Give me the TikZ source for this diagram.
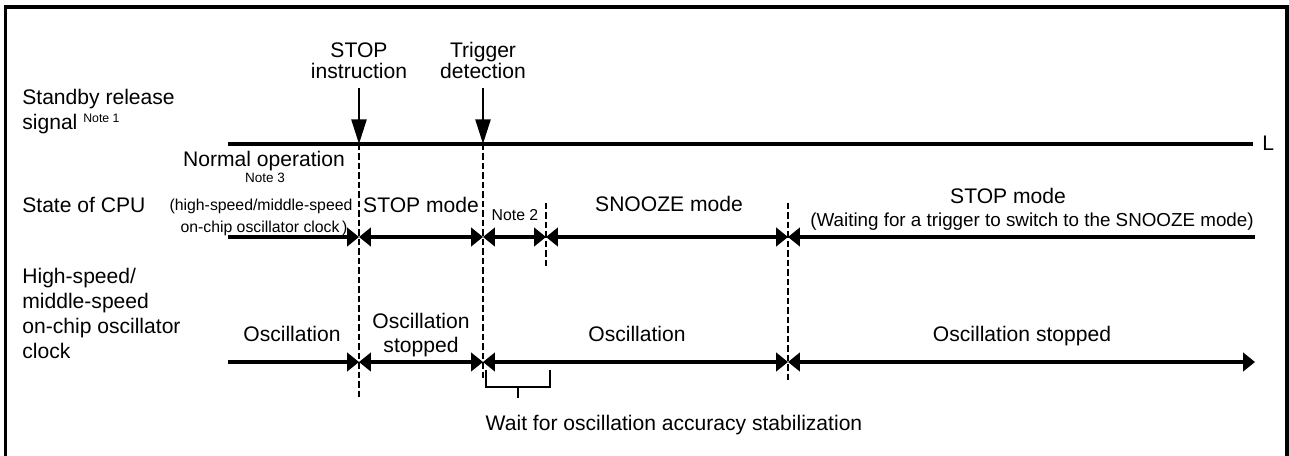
\documentclass[tikz,border=0pt]{standalone}
\usepackage{fontspec}
\setmainfont{Liberation Sans}
\usepackage{graphicx}
\usetikzlibrary{arrows.meta}

\tikzset{
  txt/.style={inner sep=0pt, anchor=base, font=\fontsize{12}{14}\selectfont},
  lefttxt/.style={txt, anchor=base west},
  smalltxt/.style={txt, font=\fontsize{9}{11}\selectfont},
  frame/.style={line width=2pt},
  signal/.style={line width=1.9pt},
  cutline/.style={line width=1.4pt, dash pattern=on 3.6pt off 1.8pt},
  event/.style={line width=1.5pt, -{Triangle[length=14pt,width=8.5pt]}},
  brace/.style={line width=1pt},
  >={Triangle[length=6.8pt,width=10.5pt]}
}

\begin{document}
\begin{tikzpicture}[x=0.02cm, y=-0.02cm]
  \useasboundingbox (0,0) rectangle (1289,456);
  % outer frame
  \draw[frame] (5.5,457) -- (5.5,7) -- (1287,7) -- (1287,457);

  % row labels
  \node[lefttxt] (lsb) at (22,105) {Standby release};
  \node[lefttxt] (lsig) at (22,130) {signal \raisebox{4.5pt}{\fontsize{7}{8}\selectfont Note 1}};
  \node[lefttxt] (lcpu) at (22,213) {State of CPU};
  \node[lefttxt] (lhs1) at (22,283) {High-speed/};
  \node[lefttxt] (lhs2) at (22,308) {middle-speed};
  \node[lefttxt] (lhs3) at (22,333) {on-chip oscillator};
  \node[lefttxt] (lhs4) at (22,358) {clock};

  % events
  \node[txt] (stop1) at (359,58) {STOP};
  \node[txt] (stop2) at (359,79) {instruction};
  \node[txt] (trg1) at (483,58) {Trigger};
  \node[txt] (trg2) at (483,79) {detection};
  \coordinate (ev1) at (359,88);
  \coordinate (ev2) at (483,88);

  % time marks
  \coordinate (sb0) at (228,144);  \coordinate (sb1) at (1253,144);
  \coordinate (sbA) at (359,144);  \coordinate (sbB) at (483,144);
  \coordinate (cpu0) at (228,237); \coordinate (cpu1) at (359,237);
  \coordinate (cpu2) at (483,237); \coordinate (cpu3) at (546,237);
  \coordinate (cpu4) at (788,237); \coordinate (cpu5) at (1255,237);
  \coordinate (osc0) at (228,362); \coordinate (osc1) at (359,362);
  \coordinate (osc2) at (483,362); \coordinate (osc4) at (788,362);
  \coordinate (osc5) at (1255,362);

  % standby release signal
  \draw[signal] (sb0) -- (sb1);
  \node[lefttxt] (lowL) at (1262,151) {L};
  \draw[event] (ev1) -- (sbA);
  \draw[event] (ev2) -- (sbB);

  % dashed cut lines
  \coordinate (cA) at (359,400);
  \coordinate (cB) at (483,378);
  \coordinate (cCt) at (546,203); \coordinate (cCb) at (546,268);
  \coordinate (cDt) at (788,203); \coordinate (cDb) at (788,380);
  \draw[cutline] (sbA) -- (cA);
  \draw[cutline] (sbB) -- (cB);
  \draw[cutline] (cCt) -- (cCb);
  \draw[cutline] (cDt) -- (cDb);

  % state of CPU
  \draw[signal,->] (cpu0) -- (cpu1);
  \draw[signal,<->] (cpu1) -- (cpu2);
  \draw[signal,<->] (cpu2) -- (cpu3);
  \draw[signal,<->] (cpu3) -- (cpu4);
  \draw[signal,<-] (cpu4) -- (cpu5);
  \node[txt] (norm) at (264,167) {Normal operation};
  \node[txt, font=\fontsize{7.7}{9}\selectfont] (n3) at (265,183) {Note 3};
  \node[smalltxt] (hsm1) at (261,211) {(high-speed/middle-speed};
  \node[smalltxt] (hsm2) at (264,233) {on-chip oscillator clock\,)};
  \node[txt] (stopm) at (421,213) {STOP mode};
  \node[smalltxt] (n2) at (515,220) {Note 2};
  \node[txt] (snz) at (669,212) {SNOOZE mode};
  \node[txt] (stopw) at (1008,203) {STOP mode};
  \node[txt, font=\fontsize{10.7}{12}\selectfont] (wait) at (1032,226) {(Waiting for a trigger to switch to the SNOOZE mode)};

  % on-chip oscillator clock
  \draw[signal,->] (osc0) -- (osc1);
  \draw[signal,<->] (osc1) -- (osc2);
  \draw[signal,<->] (osc2) -- (osc4);
  \draw[signal,<->] (osc4) -- (osc5);
  \node[txt] (os1) at (292,341) {Oscillation};
  \node[txt] (os2a) at (421,328) {Oscillation};
  \node[txt] (os2b) at (421,352) {stopped};
  \node[txt] (os3) at (637,341) {Oscillation};
  \node[txt] (os4) at (1022,341) {Oscillation stopped};

  % stabilization wait
  \coordinate (wl) at (486,370); \coordinate (wr) at (550,370);
  \coordinate (wm) at (518,387); \coordinate (wt) at (518,398);
  \draw[brace] (wl) -- (486,387) -- (550,387) -- (wr);
  \draw[brace] (wm) -- (wt);
  \node[txt] (waitst) at (674,430) {Wait for oscillation accuracy stabilization};
\end{tikzpicture}
\end{document}
